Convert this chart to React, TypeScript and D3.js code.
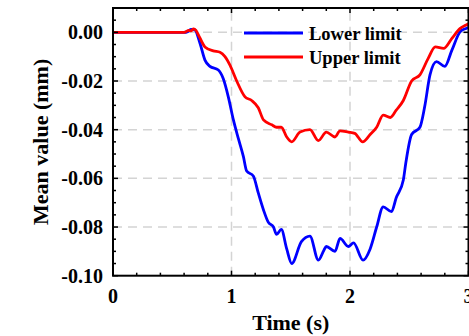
import React from 'react'
import * as d3 from 'd3'

// values
const lowerTime = [0, 0.3, 0.6, 0.63, 0.66, 0.69, 0.734, 0.776, 0.818, 0.889, 0.93, 0.973, 1.016, 1.06, 1.1, 1.128, 1.184, 1.226, 1.27, 1.31, 1.354, 1.38, 1.42, 1.466, 1.508, 1.59, 1.662, 1.733, 1.78, 1.80, 1.873, 1.916, 1.986, 2.03, 2.11, 2.17, 2.225, 2.28, 2.35, 2.39, 2.45, 2.47, 2.52, 2.59, 2.63, 2.675, 2.73, 2.80, 2.86, 2.93, 2.98, 3.0]
const lowerValue = [0, 0, 0, 0.0003, 0.0012, 0.001, -0.0045, -0.0114, -0.014, -0.0155, -0.019, -0.0265, -0.036, -0.044, -0.051, -0.057, -0.059, -0.066, -0.073, -0.078, -0.080, -0.083, -0.081, -0.089, -0.095, -0.086, -0.0837, -0.0936, -0.0895, -0.088, -0.090, -0.0847, -0.088, -0.0865, -0.0936, -0.089, -0.080, -0.0717, -0.0737, -0.068, -0.0607, -0.054, -0.042, -0.039, -0.0306, -0.0175, -0.012, -0.014, -0.0073, 0.0003, 0.0016, 0.002]

const upperTime = [0, 0.3, 0.6, 0.64, 0.66, 0.68, 0.7, 0.73, 0.776, 0.846, 0.903, 0.945, 0.987, 1.044, 1.114, 1.17, 1.226, 1.27, 1.34, 1.38, 1.42, 1.466, 1.508, 1.578, 1.662, 1.733, 1.80, 1.873, 1.916, 1.986, 2.04, 2.107, 2.17, 2.225, 2.28, 2.34, 2.39, 2.45, 2.52, 2.59, 2.66, 2.72, 2.79, 2.86, 2.93, 2.98, 3.0]
const upperValue = [0, 0, 0, 0.0008, 0.0006, 0.0014, 0.0008, -0.002, -0.006, -0.0076, -0.0082, -0.010, -0.0135, -0.020, -0.0265, -0.028, -0.031, -0.036, -0.038, -0.039, -0.039, -0.043, -0.045, -0.041, -0.040, -0.0445, -0.041, -0.043, -0.0405, -0.041, -0.0415, -0.045, -0.042, -0.039, -0.034, -0.035, -0.032, -0.028, -0.020, -0.0175, -0.0107, -0.006, -0.0066, -0.0025, 0.0016, 0.003, 0.0035]

const xTicks = [0, 1, 2, 3]
const yTicks = [0, -0.02, -0.04, -0.06, -0.08, -0.1]
const legendLabels = ['Lower limit', 'Upper limit']

const W = 469
const H = 336
const margin = { left: 113, right: 0.5, top: 8, bottom: 60.3 }
const font = '"Liberation Serif", "Times New Roman", serif'

const App: React.FC = () => {
  const x = d3.scaleLinear().domain([0, 3]).range([margin.left, W - margin.right])
  const y = d3.scaleLinear().domain([-0.1, 0.01]).range([H - margin.bottom, margin.top])
  const [x0, x1] = x.range()
  const [y0, y1] = y.range()

  const line = d3.line<[number, number]>()
    .x(d => x(d[0]))
    .y(d => y(d[1]))
    .curve(d3.curveMonotoneX)

  const lower = line(lowerTime.map((t, i) => [t, lowerValue[i]]) as [number, number][]) || ''
  const upper = line(upperTime.map((t, i) => [t, upperValue[i]]) as [number, number][]) || ''

  const xMinor = d3.range(0, 3.001, 0.2)
  const yMinor = d3.range(-0.1, 0.0101, 0.005)

  const grid = '#d4d4d4'

  return (
    <svg width={W} height={H} style={{ position: 'absolute', left: 0, top: 0 }}>
      <defs>
        <clipPath id="plot">
          <rect x={x0} y={y1} width={x1 - x0} height={y0 - y1} />
        </clipPath>
      </defs>
      {/* grid */}
      {xTicks.filter(t => t > 0 && t < 3).map(t => (
        <line key={'gx' + t} x1={x(t)} x2={x(t)} y1={y0} y2={y1} stroke={grid} strokeWidth={1.5} strokeDasharray="9,6" />
      ))}
      {yTicks.filter(t => t > -0.1).map(t => (
        <line key={'gy' + t} x1={x0} x2={x1} y1={y(t)} y2={y(t)} stroke={grid} strokeWidth={1.5} strokeDasharray="9,6" />
      ))}

      {/* series */}
      <g clipPath="url(#plot)">
        <path d={lower} fill="none" stroke="#0000ff" strokeWidth={2.8} strokeLinejoin="round" />
        <path d={upper} fill="none" stroke="#ff0000" strokeWidth={2.8} strokeLinejoin="round" />
      </g>

      {/* ticks, inward on all four sides */}
      {xMinor.map((t, i) => {
        const len = i % 5 === 0 ? 5 : 3
        return (
          <g key={'tx' + i}>
            <line x1={x(t)} x2={x(t)} y1={y0} y2={y0 - len} stroke="#000" strokeWidth={1.5} />
            <line x1={x(t)} x2={x(t)} y1={y1} y2={y1 + len} stroke="#000" strokeWidth={1.5} />
          </g>
        )
      })}
      {yMinor.map((t, i) => {
        const len = i % 4 === 0 ? 5 : 3
        return (
          <g key={'ty' + i}>
            <line x1={x0} x2={x0 + len} y1={y(t)} y2={y(t)} stroke="#000" strokeWidth={1.5} />
            <line x1={x1} x2={x1 - len} y1={y(t)} y2={y(t)} stroke="#000" strokeWidth={1.5} />
          </g>
        )
      })}

      {/* frame */}
      <rect x={x0} y={y1} width={x1 - x0} height={y0 - y1} fill="none" stroke="#000" strokeWidth={2} />

      {/* tick labels */}
      {xTicks.map(t => (
        <text key={'lx' + t} x={x(t)} y={y0 + 27} textAnchor="middle" fontFamily={font} fontWeight="bold" fontSize={20}>
          {d3.format('d')(t)}
        </text>
      ))}
      {yTicks.map(t => (
        <text key={'ly' + t} x={x0 - 10} y={y(t) + 7} textAnchor="end" fontFamily={font} fontWeight="bold" fontSize={20}>
          {d3.format('.2f')(t).replace('−', '-')}
        </text>
      ))}

      {/* axis titles */}
      <text x={(x0 + x1) / 2} y={330} textAnchor="middle" fontFamily={font} fontWeight="bold" fontSize={22}>
        Time (s)
      </text>
      <text transform={`translate(48,${(y0 + y1) / 2}) rotate(-90)`} textAnchor="middle" fontFamily={font} fontWeight="bold" fontSize={22}>
        Mean value (mm)
      </text>

      {/* legend */}
      {legendLabels.map((label, i) => (
        <g key={label} transform={`translate(244,${33 + i * 24})`}>
          <line x1={0} x2={59} y1={0} y2={0} stroke={i === 0 ? '#0000ff' : '#ff0000'} strokeWidth={3} />
          <text x={65} y={7} fontFamily={font} fontWeight="bold" fontSize={18.5}>{label}</text>
        </g>
      ))}
    </svg>
  )
}

export default App
